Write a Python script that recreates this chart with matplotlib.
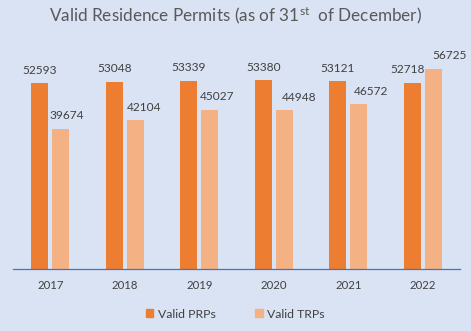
import matplotlib

matplotlib.use("Agg")
import matplotlib.pyplot as plt
import numpy as np
from matplotlib.patches import Patch

YEARS = ["2017", "2018", "2019", "2020", "2021", "2022"]
VALID_PRPS = [52593, 53048, 53339, 53380, 53121, 52718]
VALID_TRPS = [39674, 42104, 45027, 44948, 46572, 56725]

BG = "#DAE3F3"
PRP_COLOR = "#ED7D31"
TRP_COLOR = "#F4B183"
TEXT_COLOR = "#404040"

# label nudges in pixels, Excel had them dragged around a bit
PRP_DX = [0, 0, 0, 0, 0, -5]
TRP_DX = [6, 9, 7, 15, 12, 16]

plt.rcParams["font.family"] = ["Lato", "DejaVu Sans"]
plt.rcParams["mathtext.fontset"] = "custom"
plt.rcParams["mathtext.rm"] = "Lato"
plt.rcParams["mathtext.it"] = "Lato"

fig = plt.figure(figsize=(4.71, 3.31), dpi=100, facecolor=BG)
W, H = 471, 331
ax = fig.add_axes([13 / W, (H - 269) / H, 447 / W, 212 / H])
ax.set_facecolor(BG)

x = np.arange(len(YEARS))
width = 17 / 74.5
gap = 4 / 74.5
prp_x = x - (width + gap) / 2
trp_x = x + (width + gap) / 2

ax.bar(prp_x, VALID_PRPS, width=width, color=PRP_COLOR)
ax.bar(trp_x, VALID_TRPS, width=width, color=TRP_COLOR)

for xi, v, dx in zip(prp_x, VALID_PRPS, PRP_DX):
    ax.annotate(str(v), (xi, v), xytext=(dx * 0.72, 5.5), textcoords="offset points",
                ha="center", va="bottom", fontsize=8.6, color=TEXT_COLOR)
for xi, v, dx in zip(trp_x, VALID_TRPS, TRP_DX):
    ax.annotate(str(v), (xi, v), xytext=(dx * 0.72, 5.5), textcoords="offset points",
                ha="center", va="bottom", fontsize=8.6, color=TEXT_COLOR)

ax.set_xlim(-0.5, len(YEARS) - 0.5)
ax.set_ylim(0, 60000)
ax.set_xticks(x)
ax.set_xticklabels(YEARS, fontsize=8.2, color=TEXT_COLOR)
ax.tick_params(axis="x", length=0, pad=8)
ax.set_yticks([])
for side in ["top", "left", "right"]:
    ax.spines[side].set_visible(False)
ax.spines["bottom"].set_color("#4472C4")
ax.spines["bottom"].set_linewidth(0.9)

fig.text(0.5, 1 - 16 / H, r"Valid Residence Permits (as of 31$^{\mathrm{st}}$  of December)",
         ha="center", va="center", fontsize=12.3, color="#595959")

handles = [Patch(color=PRP_COLOR, label="Valid PRPs"), Patch(color=TRP_COLOR, label="Valid TRPs")]
fig.legend(handles=handles, loc="center", bbox_to_anchor=(0.5, 1 - 314 / H), ncol=2,
           frameon=False, fontsize=8.8, handlelength=0.6, handleheight=0.6,
           columnspacing=3.2, handletextpad=0.4, labelcolor=TEXT_COLOR)

fig.savefig("out.png", dpi=100, facecolor=BG)
